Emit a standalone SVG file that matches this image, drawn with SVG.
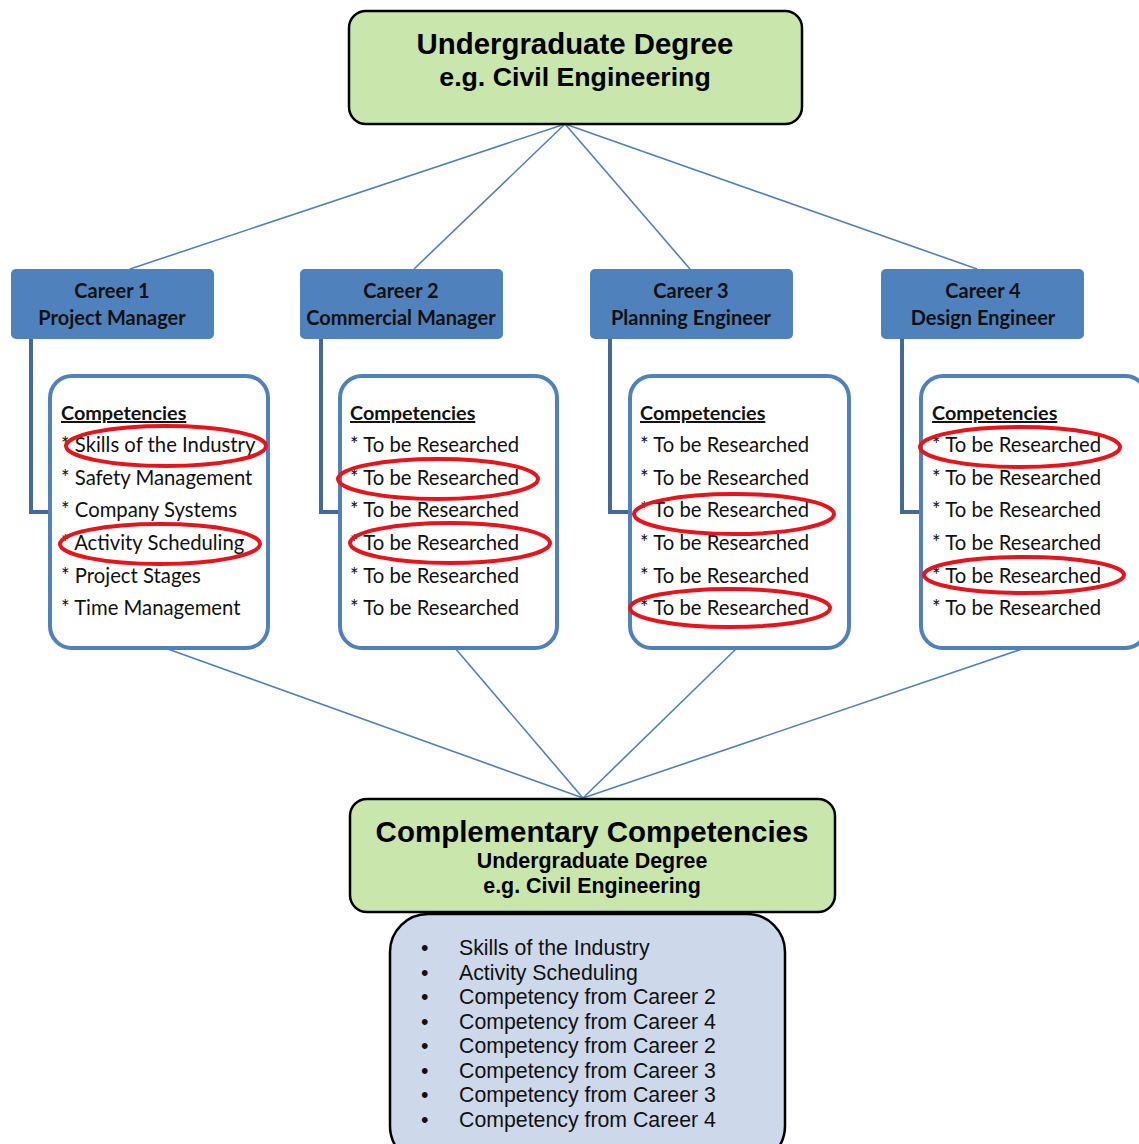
<svg xmlns="http://www.w3.org/2000/svg" width="1139" height="1144" viewBox="0 0 1139 1144">
  <style>
    .green { fill: #c9e6ac; stroke: #000; stroke-width: 2.5; }
    .career { fill: #4f81bd; }
    .comp { fill: #fff; stroke: #4f81bd; stroke-width: 4; }
    .list { fill: #cdd9ea; stroke: #000; stroke-width: 2.5; }
    .link { stroke: #4f81bd; stroke-width: 1.6; fill: none; }
    .elbow { stroke: #41699a; stroke-width: 4; fill: none; }
    .mark { fill: none; stroke: #e8141b; stroke-width: 4; }
    .hd { font-family: "Liberation Sans", Arial, sans-serif; font-weight: bold; fill: #000; text-anchor: middle; }
    .ct { font-family: Lato, "Open Sans", sans-serif; font-weight: bold; font-size: 20px; fill: #111; text-anchor: middle; }
    .it { font-family: Lato, "Open Sans", sans-serif; font-size: 20.3px; fill: #111; }
    .ith { font-family: Lato, "Open Sans", sans-serif; font-size: 19.8px; font-weight: bold; fill: #111; text-decoration: underline; }
    .li { font-family: "Liberation Sans", Arial, sans-serif; font-size: 21.3px; fill: #111; }
  </style>

  <!-- connectors -->
  <g id="connectors">
    <line class="link" x1="565" y1="124" x2="130" y2="269"/>
    <line class="link" x1="565" y1="124" x2="414" y2="269"/>
    <line class="link" x1="565" y1="124" x2="690" y2="269"/>
    <line class="link" x1="565" y1="124" x2="977" y2="269"/>
    <polyline class="elbow" points="31,339 31,512 50,512"/>
    <polyline class="elbow" points="321,339 321,512 340,512"/>
    <polyline class="elbow" points="610,339 610,512 630,512"/>
    <polyline class="elbow" points="902,339 902,512 921,512"/>
    <line class="link" x1="165" y1="648" x2="583" y2="798"/>
    <line class="link" x1="455" y1="648" x2="583" y2="798"/>
    <line class="link" x1="737" y1="648" x2="583" y2="798"/>
    <line class="link" x1="1025" y1="648" x2="583" y2="798"/>
  </g>

  <!-- degree -->
  <g id="degree">
    <rect class="green" x="349" y="11" width="453" height="113" rx="17"/>
    <text class="hd" x="575" y="54" font-size="29.4">Undergraduate Degree</text>
    <text class="hd" x="575" y="86" font-size="26.7">e.g. Civil Engineering</text>
  </g>

  <!-- career 1 -->
  <g id="career1">
    <rect class="career" x="11" y="269" width="203" height="70" rx="5"/>
    <text class="ct" x="112" y="298">Career 1</text>
    <text class="ct" x="112" y="325">Project Manager</text>
  </g>
  <g id="competencies1">
    <rect class="comp" x="50" y="376" width="218" height="272" rx="22"/>
    <text class="ith" x="61" y="420">Competencies</text>
    <text class="it" x="61" y="452">* Skills of the Industry</text>
    <text class="it" x="61" y="485">* Safety Management</text>
    <text class="it" x="61" y="517">* Company Systems</text>
    <text class="it" x="61" y="550">* Activity Scheduling</text>
    <text class="it" x="61" y="583">* Project Stages</text>
    <text class="it" x="61" y="615">* Time Management</text>
    <ellipse class="mark" cx="166" cy="446" rx="100" ry="20"/>
    <ellipse class="mark" cx="160" cy="544" rx="100" ry="20"/>
  </g>

  <!-- career 2 -->
  <g id="career2">
    <rect class="career" x="300" y="269" width="203" height="70" rx="5"/>
    <text class="ct" x="401" y="298">Career 2</text>
    <text class="ct" x="401" y="325">Commercial Manager</text>
  </g>
  <g id="competencies2">
    <rect class="comp" x="340" y="376" width="217" height="272" rx="22"/>
    <text class="ith" x="350" y="420">Competencies</text>
    <text class="it" x="350" y="452">* To be Researched</text>
    <text class="it" x="350" y="485">* To be Researched</text>
    <text class="it" x="350" y="517">* To be Researched</text>
    <text class="it" x="350" y="550">* To be Researched</text>
    <text class="it" x="350" y="583">* To be Researched</text>
    <text class="it" x="350" y="615">* To be Researched</text>
    <ellipse class="mark" cx="438" cy="479" rx="100" ry="20"/>
    <ellipse class="mark" cx="450" cy="543" rx="100" ry="20"/>
  </g>

  <!-- career 3 -->
  <g id="career3">
    <rect class="career" x="590" y="269" width="203" height="70" rx="5"/>
    <text class="ct" x="691" y="298">Career 3</text>
    <text class="ct" x="691" y="325">Planning Engineer</text>
  </g>
  <g id="competencies3">
    <rect class="comp" x="630" y="376" width="219" height="272" rx="22"/>
    <text class="ith" x="640" y="420">Competencies</text>
    <text class="it" x="640" y="452">* To be Researched</text>
    <text class="it" x="640" y="485">* To be Researched</text>
    <text class="it" x="640" y="517">* To be Researched</text>
    <text class="it" x="640" y="550">* To be Researched</text>
    <text class="it" x="640" y="583">* To be Researched</text>
    <text class="it" x="640" y="615">* To be Researched</text>
    <ellipse class="mark" cx="734" cy="514" rx="100" ry="20"/>
    <ellipse class="mark" cx="730" cy="608" rx="100" ry="19"/>
  </g>

  <!-- career 4 -->
  <g id="career4">
    <rect class="career" x="881" y="269" width="203" height="70" rx="5"/>
    <text class="ct" x="983" y="298">Career 4</text>
    <text class="ct" x="983" y="325">Design Engineer</text>
  </g>
  <g id="competencies4">
    <rect class="comp" x="921" y="376" width="226" height="272" rx="22"/>
    <text class="ith" x="932" y="420">Competencies</text>
    <text class="it" x="932" y="452">* To be Researched</text>
    <text class="it" x="932" y="485">* To be Researched</text>
    <text class="it" x="932" y="517">* To be Researched</text>
    <text class="it" x="932" y="550">* To be Researched</text>
    <text class="it" x="932" y="583">* To be Researched</text>
    <text class="it" x="932" y="615">* To be Researched</text>
    <ellipse class="mark" cx="1020" cy="447" rx="100" ry="20"/>
    <ellipse class="mark" cx="1024" cy="575" rx="100" ry="18"/>
  </g>

  <!-- complementary -->
  <g id="complementary">
    <rect class="green" x="350" y="799" width="485" height="113" rx="17"/>
    <text class="hd" x="592" y="842" font-size="29.5">Complementary Competencies</text>
    <text class="hd" x="592" y="868" font-size="21.4">Undergraduate Degree</text>
    <text class="hd" x="592" y="893" font-size="21.4">e.g. Civil Engineering</text>
  </g>

  <g id="combined-list">
    <rect class="list" x="390" y="914" width="395" height="250" rx="38"/>
    <g class="li">
      <text x="421" y="955">•</text><text x="459" y="955">Skills of the Industry</text>
      <text x="421" y="980">•</text><text x="459" y="980">Activity Scheduling</text>
      <text x="421" y="1004">•</text><text x="459" y="1004">Competency from Career 2</text>
      <text x="421" y="1029">•</text><text x="459" y="1029">Competency from Career 4</text>
      <text x="421" y="1053">•</text><text x="459" y="1053">Competency from Career 2</text>
      <text x="421" y="1078">•</text><text x="459" y="1078">Competency from Career 3</text>
      <text x="421" y="1102">•</text><text x="459" y="1102">Competency from Career 3</text>
      <text x="421" y="1127">•</text><text x="459" y="1127">Competency from Career 4</text>
    </g>
  </g>
</svg>
